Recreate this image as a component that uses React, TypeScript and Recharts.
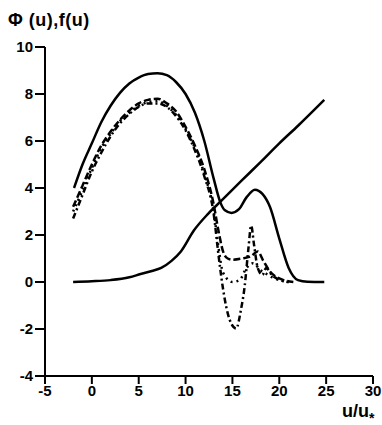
import { LineChart, Line, XAxis, YAxis, Label } from "recharts";

const xTicks = [-5, 0, 5, 10, 15, 20, 25, 30];
const yTicks = [-4, -2, 0, 2, 4, 6, 8, 10];

// f(u), solid bell with second hump
const fU = [-1.9, -1, 0, 1, 2, 3, 4, 5, 6, 7, 8, 9, 10, 11, 12, 13, 13.7, 14.2, 14.9, 15.7, 16.5, 17.4, 18.2, 19, 20, 21, 22, 23, 24.8];
const fVal = [4.0, 5.0, 5.9, 6.8, 7.5, 8.05, 8.45, 8.7, 8.85, 8.88, 8.8, 8.5, 8.0, 7.2, 6.0, 4.4, 3.4, 3.05, 2.94, 3.1, 3.6, 3.93, 3.75, 3.2, 1.85, 0.6, 0.08, 0.01, 0];

// Phi(u), S-curve then straight
const phiU = [-2, 0, 2, 4, 5.2, 6.4, 7.4, 8.5, 9.5, 10.9, 12.4, 13.8, 16, 18, 20, 22, 24.8];
const phiVal = [0, 0.03, 0.08, 0.2, 0.34, 0.47, 0.6, 0.9, 1.3, 2.2, 2.9, 3.45, 4.32, 5.1, 5.9, 6.65, 7.75];

// measured curves
const dashU = [-2, -1, 0, 1, 2, 3, 4, 5, 6, 7, 8, 9, 10, 11, 12, 13, 13.5, 14, 14.5, 15, 16, 17, 17.7, 18.3, 19, 20, 21.5];
const dashVal = [3.2, 4.1, 5.0, 5.8, 6.4, 6.9, 7.3, 7.6, 7.75, 7.8, 7.6, 7.25, 6.6, 5.8, 4.8, 3.3, 2.2, 1.3, 1.0, 0.95, 1.0, 1.1, 1.3, 0.9, 0.45, 0.15, 0];

const dotU = [-2, -1, 0, 1, 2, 3, 4, 5, 6, 7, 8, 9, 10, 11, 12, 13, 13.5, 14, 15, 15.8, 16.5, 17.2, 18, 18.6, 19.5, 21];
const dotVal = [3.0, 3.9, 4.85, 5.7, 6.3, 6.85, 7.2, 7.5, 7.65, 7.7, 7.5, 7.1, 6.5, 5.7, 4.6, 3.0, 1.5, 0.4, 0.0, 0.1, 0.6, 0.8, 0.5, 0.35, 0.15, 0];

const ddU = [-2, -1, 0, 1, 2, 3, 4, 5, 6, 7, 8, 9, 10, 11, 12, 13, 13.5, 14, 14.7, 15.4, 15.9, 16.3, 16.7, 17, 17.3, 17.7, 18.2, 18.6, 19.2, 20, 21];
const ddVal = [2.7, 3.7, 4.7, 5.5, 6.2, 6.75, 7.15, 7.45, 7.6, 7.6, 7.45, 7.05, 6.45, 5.6, 4.5, 2.9, 1.2, -0.3, -1.6, -1.98, -1.2, -0.2, 1.4, 2.4, 1.6, 0.6, 0.3, 0.6, 0.3, 0.1, 0];

const toPts = (us: number[], vs: number[]) => us.map((u, i) => ({ u, v: vs[i] }));

const font = "'Liberation Sans', Arial, sans-serif";

const XTick = ({ x, y, payload }: any) => (
  <text x={x} y={y + 11} textAnchor="middle" fontFamily={font} fontSize={15} fontWeight="bold" fill="#000">
    {payload.value}
  </text>
);

const YTick = ({ x, y, payload }: any) => (
  <text x={x} y={y + 5} textAnchor="end" fontFamily={font} fontSize={15} fontWeight="bold" fill="#000">
    {payload.value}
  </text>
);

export default function App() {
  return (
    <div style={{ position: "absolute", left: 0, top: 0, width: 382, height: 425, background: "#fff" }}>
      <LineChart width={382} height={425} margin={{ top: 47, right: 9, bottom: 0, left: 0 }}>
        <XAxis
          dataKey="u"
          type="number"
          domain={[-5, 30]}
          ticks={xTicks}
          interval={0}
          height={49}
          tick={<XTick />}
          tickSize={8}
          tickMargin={1}
          axisLine={{ stroke: "#000", strokeWidth: 2 }}
          tickLine={{ stroke: "#000", strokeWidth: 2 }}
          allowDataOverflow
        >
          <Label
            content={() => (
              <text x={342} y={417} fontFamily={font} fontSize={18} fontWeight="bold" fill="#000">
                u/u<tspan dy={6} fontSize={14}>*</tspan>
              </text>
            )}
          />
        </XAxis>
        <YAxis
          type="number"
          domain={[-4, 10]}
          ticks={yTicks}
          interval={0}
          width={45}
          tick={<YTick />}
          tickSize={10}
          tickMargin={2}
          axisLine={{ stroke: "#000", strokeWidth: 2 }}
          tickLine={{ stroke: "#000", strokeWidth: 2 }}
          allowDataOverflow
        >
          <Label
            content={() => (
              <text x={8} y={26} fontFamily={font} fontSize={18} fontWeight="bold" fill="#000" letterSpacing={0.5}>
                Φ (u),f(u)
              </text>
            )}
          />
        </YAxis>
        <Line data={toPts(fU, fVal)} dataKey="v" type="monotone" stroke="#000" strokeWidth={2.5} dot={false} isAnimationActive={false} />
        <Line data={toPts(phiU, phiVal)} dataKey="v" type="monotone" stroke="#000" strokeWidth={2.5} dot={false} isAnimationActive={false} />
        <Line data={toPts(dashU, dashVal)} dataKey="v" type="monotone" stroke="#000" strokeWidth={2.5} strokeDasharray="7 3" dot={false} isAnimationActive={false} />
        <Line data={toPts(dotU, dotVal)} dataKey="v" type="monotone" stroke="#000" strokeWidth={2.5} strokeDasharray="2 4" dot={false} isAnimationActive={false} />
        <Line data={toPts(ddU, ddVal)} dataKey="v" type="monotone" stroke="#000" strokeWidth={2.5} strokeDasharray="6 3 2 3" dot={false} isAnimationActive={false} />
      </LineChart>
    </div>
  );
}
